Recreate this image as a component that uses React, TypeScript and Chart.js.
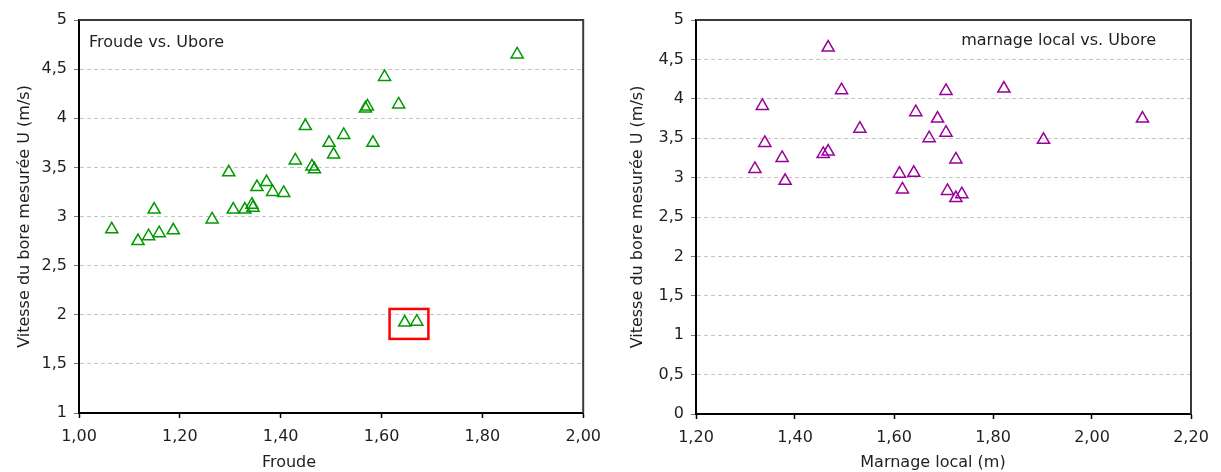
import React, { useEffect, useRef } from 'react';
import { Chart, registerables } from 'chart.js';

Chart.register(...registerables);

// ---------- data: left chart (Froude vs. Ubore) ----------
const froudeValues = [
  1.065, 1.117, 1.138, 1.159, 1.149, 1.187, 1.264, 1.297, 1.306, 1.329, 1.343,
  1.345, 1.353, 1.372, 1.384, 1.406, 1.429, 1.449, 1.462, 1.467, 1.496, 1.505,
  1.525, 1.568, 1.572, 1.583, 1.606, 1.634, 1.869, 1.646, 1.670,
];
const uboreVsFroude = [
  2.87, 2.75, 2.80, 2.83, 3.07, 2.86, 2.97, 3.45, 3.07, 3.07, 3.12,
  3.09, 3.30, 3.35, 3.25, 3.24, 3.57, 3.92, 3.51, 3.48, 3.75, 3.63,
  3.83, 4.10, 4.12, 3.75, 4.42, 4.14, 4.65, 1.92, 1.93,
];
const froudeTickValues = [1.0, 1.2, 1.4, 1.6, 1.8, 2.0];
const froudeTickLabels = ['1,00', '1,20', '1,40', '1,60', '1,80', '2,00'];
const leftYTickValues = [1, 1.5, 2, 2.5, 3, 3.5, 4, 4.5, 5];
const leftYTickLabels = ['1', '1,5', '2', '2,5', '3', '3,5', '4', '4,5', '5'];
// highlighted outliers (red box), in data units [xMin, xMax, yMin, yMax]
const outlierBox = [1.616, 1.693, 1.754, 2.059];

// ---------- data: right chart (marnage local vs. Ubore) ----------
const marnageValues = [
  1.319, 1.334, 1.339, 1.374, 1.380, 1.457, 1.467, 1.467, 1.494, 1.531, 1.611,
  1.617, 1.640, 1.644, 1.671, 1.688, 1.705, 1.705, 1.725, 1.708, 1.725, 1.737,
  1.822, 1.902, 2.102,
];
const uboreVsMarnage = [
  3.11, 3.91, 3.44, 3.25, 2.96, 3.30, 3.33, 4.65, 4.11, 3.62, 3.05,
  2.85, 3.06, 3.83, 3.50, 3.75, 4.10, 3.57, 3.23, 2.83, 2.74, 2.79,
  4.13, 3.48, 3.75,
];
const marnageTickValues = [1.2, 1.4, 1.6, 1.8, 2.0, 2.2];
const marnageTickLabels = ['1,20', '1,40', '1,60', '1,80', '2,00', '2,20'];
const rightYTickValues = [0, 0.5, 1, 1.5, 2, 2.5, 3, 3.5, 4, 4.5, 5];
const rightYTickLabels = ['0', '0,5', '1', '1,5', '2', '2,5', '3', '3,5', '4', '4,5', '5'];

const yTitle = 'Vitesse du bore mesurée U (m/s)';

const FONT = '"DejaVu Sans", Verdana, sans-serif';
const TEXT = '#1f1f1f';

type PanelProps = {
  left: number;
  width: number;
  xs: number[];
  ys: number[];
  color: string;
  xTicks: number[];
  xLabels: string[];
  yTicks: number[];
  yLabels: string[];
  yAxisWidth: number;
  xAxisHeight: number;
  padRight: number;
  yTitlePad: number;
  seriesTitle: string;
  seriesTitleX: number;
  seriesTitleY: number;
  seriesTitleAlign: CanvasTextAlign;
  xTitle: string;
  xTitleX: number;
  xTitleY: number;
  box?: number[];
};

function Panel(p: PanelProps) {
  const ref = useRef<HTMLCanvasElement | null>(null);

  useEffect(() => {
    if (!ref.current) return;
    const points = p.xs.map((x, i) => ({ x, y: p.ys[i] }));

    const decorations = {
      id: 'decorations',
      afterDatasetsDraw(chart: any) {
        const { ctx, chartArea, scales } = chart;
        ctx.save();
        // frame: top & right
        ctx.strokeStyle = '#3a3a3a';
        ctx.lineWidth = 2;
        ctx.beginPath();
        ctx.moveTo(chartArea.left, chartArea.top);
        ctx.lineTo(chartArea.right, chartArea.top);
        ctx.lineTo(chartArea.right, chartArea.bottom);
        ctx.stroke();
        // highlight box
        if (p.box) {
          const x1 = scales.x.getPixelForValue(p.box[0]);
          const x2 = scales.x.getPixelForValue(p.box[1]);
          const y1 = scales.y.getPixelForValue(p.box[3]);
          const y2 = scales.y.getPixelForValue(p.box[2]);
          ctx.strokeStyle = '#ff0000';
          ctx.lineWidth = 2.5;
          ctx.strokeRect(x1, y1, x2 - x1, y2 - y1);
        }
        // texts
        ctx.fillStyle = TEXT;
        ctx.font = `16px ${FONT}`;
        ctx.textBaseline = 'middle';
        ctx.textAlign = p.seriesTitleAlign;
        ctx.fillText(p.seriesTitle, p.seriesTitleX, p.seriesTitleY);
        ctx.textAlign = 'center';
        ctx.fillText(p.xTitle, p.xTitleX, p.xTitleY);
        ctx.restore();
      },
    };

    const chart = new Chart(ref.current, {
      type: 'scatter',
      data: {
        datasets: [
          {
            data: points,
            pointStyle: 'triangle',
            pointRadius: 7,
            pointHoverRadius: 7,
            pointBorderWidth: 1.5,
            borderColor: p.color,
            backgroundColor: 'rgba(0,0,0,0)',
            showLine: false,
          },
        ],
      },
      options: {
        animation: false,
        responsive: true,
        maintainAspectRatio: false,
        layout: { padding: { top: 20, right: p.padRight, bottom: 0, left: 0 } },
        plugins: { legend: { display: false }, tooltip: { enabled: false } },
        scales: {
          x: {
            type: 'linear',
            position: 'bottom',
            min: p.xTicks[0],
            max: p.xTicks[p.xTicks.length - 1],
            afterBuildTicks: (s: any) => {
              s.ticks = p.xTicks.map((v) => ({ value: v }));
            },
            afterFit: (s: any) => {
              s.height = p.xAxisHeight;
            },
            grid: {
              drawOnChartArea: false,
              drawTicks: true,
              tickLength: 5,
              tickColor: '#000',
              tickWidth: 1.5,
            },
            border: { color: '#000', width: 2 },
            ticks: {
              padding: 9,
              color: TEXT,
              font: { family: FONT, size: 16 },
              maxRotation: 0,
              autoSkip: false,
              callback: (_v: any, i: number) => p.xLabels[i] ?? '',
            },
          },
          y: {
            type: 'linear',
            position: 'left',
            min: p.yTicks[0],
            max: p.yTicks[p.yTicks.length - 1],
            afterBuildTicks: (s: any) => {
              s.ticks = p.yTicks.map((v) => ({ value: v }));
            },
            afterFit: (s: any) => {
              s.width = p.yAxisWidth;
            },
            grid: {
              color: '#c4c4c4',
              lineWidth: 1,
              drawTicks: true,
              tickLength: 5,
              tickColor: '#777',
              tickWidth: 1,
            },
            border: { color: '#000', width: 2, dash: [4, 3] },
            ticks: {
              padding: 7,
              color: TEXT,
              font: { family: FONT, size: 16 },
              autoSkip: false,
              callback: (_v: any, i: number) => p.yLabels[i] ?? '',
            },
            title: {
              display: true,
              text: yTitle,
              color: TEXT,
              font: { family: FONT, size: 16 },
              padding: { top: p.yTitlePad, bottom: 0 },
            },
          },
        },
      },
      plugins: [decorations],
    } as any);

    return () => chart.destroy();
  }, []);

  return (
    <div
      style={{
        position: 'absolute',
        left: p.left,
        top: 0,
        width: p.width,
        height: 472,
      }}
    >
      <canvas ref={ref} />
    </div>
  );
}

export default function App() {
  return (
    <div
      style={{
        position: 'fixed',
        left: 0,
        top: 0,
        width: 1221,
        height: 472,
        background: '#fff',
      }}
    >
      <Panel
        left={0}
        width={610}
        xs={froudeValues}
        ys={uboreVsFroude}
        color="#009900"
        xTicks={froudeTickValues}
        xLabels={froudeTickLabels}
        yTicks={leftYTickValues}
        yLabels={leftYTickLabels}
        yAxisWidth={79}
        xAxisHeight={59}
        padRight={26}
        yTitlePad={15}
        seriesTitle="Froude vs. Ubore"
        seriesTitleX={89}
        seriesTitleY={43}
        seriesTitleAlign="left"
        xTitle="Froude"
        xTitleX={289}
        xTitleY={463}
        box={outlierBox}
      />
      <Panel
        left={610}
        width={611}
        xs={marnageValues}
        ys={uboreVsMarnage}
        color="#990099"
        xTicks={marnageTickValues}
        xLabels={marnageTickLabels}
        yTicks={rightYTickValues}
        yLabels={rightYTickLabels}
        yAxisWidth={86}
        xAxisHeight={58}
        padRight={30}
        yTitlePad={18}
        seriesTitle="marnage local vs. Ubore"
        seriesTitleX={546}
        seriesTitleY={41}
        seriesTitleAlign="right"
        xTitle="Marnage local (m)"
        xTitleX={323}
        xTitleY={463}
      />
    </div>
  );
}
